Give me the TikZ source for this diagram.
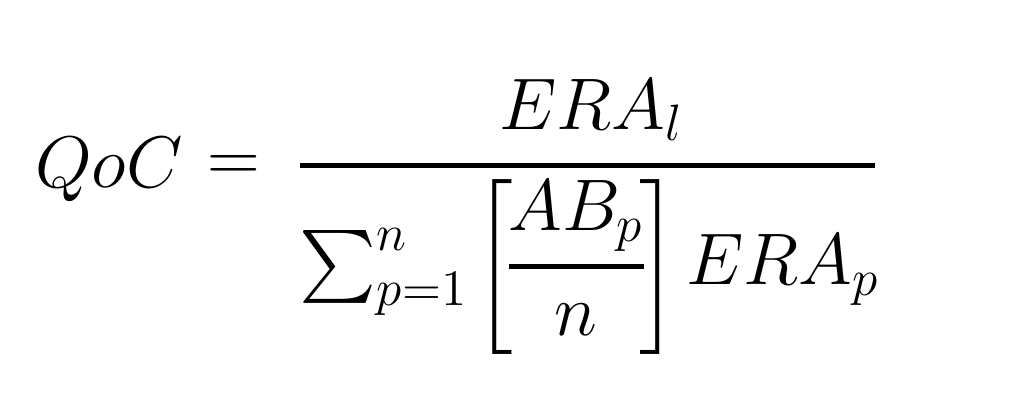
\RequirePackage{fix-cm}
\documentclass[tikz,border=0pt]{standalone}
\usepackage{amsmath}
\usepackage{tikz}
\usetikzlibrary{positioning}
\tikzset {
  % formula pieces
  term/.style = {inner sep=0pt, outer sep=0pt, anchor=base west,
    font=\fontsize{20.8}{25}\selectfont},
  % fraction bar
  fracbar/.style = {line width=0.5mm},
}

\begin{document}
\begin{tikzpicture}[x=0.1mm, y=-0.1mm]
      \useasboundingbox (0,0) rectangle (1023,405);

      \node[term] (qoc) at (35,188) {$QoC$};
      \node[term] (eq) at (207,182) {$=$};

      \node[term] (eral) at (499,130) {$ERA_l$};
      \draw [fracbar] (300,165.5) -- (875,165.5);

      \node[term] (sum) at (300,285) {$\textstyle\sum_{p=1}^{n}$};
      \node[term] (brk) at (474,285) {$\left[\mkern-2mu\genfrac{}{}{0.45mm}{0}{AB_p}{n}\mkern-2mu\right]$};
      \node[term] (erap) at (686,285) {$ERA_p$};
    \end{tikzpicture}
\end{document}
